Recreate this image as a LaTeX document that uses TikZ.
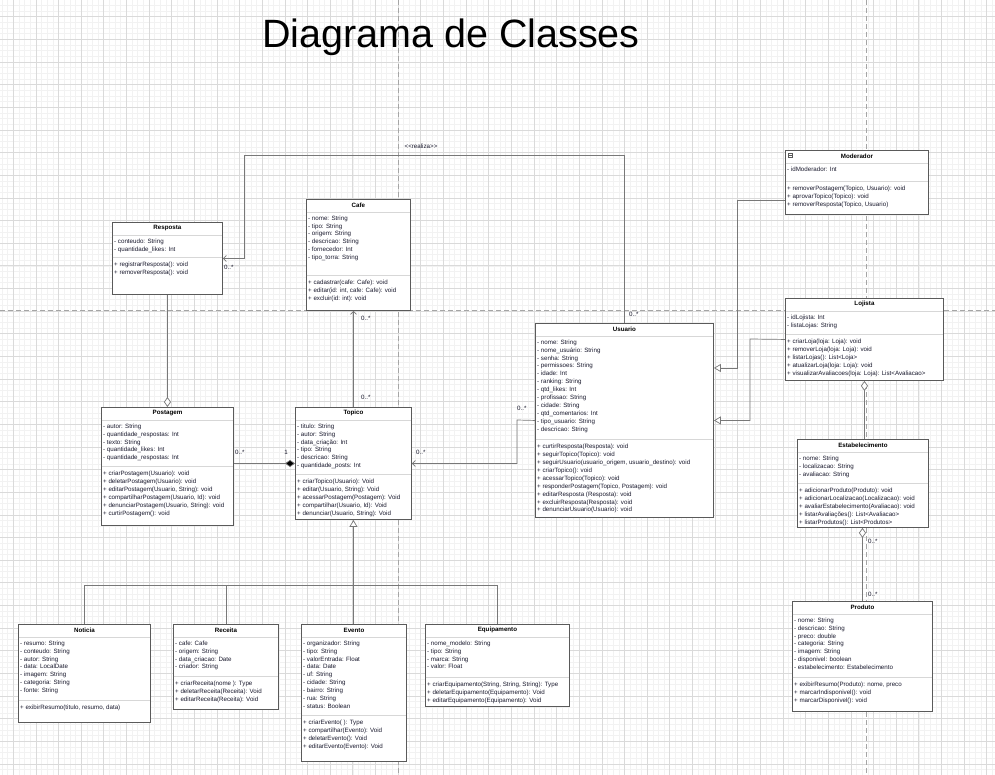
\documentclass[tikz,border=0pt]{standalone}
\usepackage{fontspec}
\setmainfont{Liberation Sans}
\usetikzlibrary{positioning,calc,arrows.meta}

\definecolor{boxgray}{RGB}{90,90,90}
\definecolor{sepgray}{RGB}{215,215,215}
\definecolor{linkgray}{RGB}{120,120,120}
\definecolor{textdark}{RGB}{25,25,45}
\definecolor{gridminor}{RGB}{242,242,242}
\definecolor{gridmajor}{RGB}{218,218,218}
\definecolor{pagegray}{RGB}{165,165,165}

\tikzset{
  umlbox/.style={draw=boxgray, line width=0.9pt, fill=white, inner sep=0pt},
  umlsep/.style={draw=sepgray, line width=0.7pt},
  umltitle/.style={font=\fontsize{6.2}{7.9}\selectfont\bfseries, text=black, inner sep=0pt},
  umltext/.style={font=\fontsize{6.2}{7.9}\selectfont, text=textdark, align=left, inner sep=0pt, anchor=north west},
  mult/.style={font=\fontsize{6.2}{7}\selectfont, text=textdark, inner sep=0pt},
  link/.style={draw=linkgray, line width=0.7pt},
  assoc/.style={link, -{Straight Barb[length=3pt,width=6pt]}},
  inherit/.style={link, -{Triangle[open,length=7pt,width=8pt,fill=white]}},
  aggreg/.style={link, -{Diamond[open,length=10pt,width=7pt,fill=white]}},
  compos/.style={link, -{Diamond[length=10pt,width=7pt,fill=black]}},
  pagebreak/.style={draw=pagegray, line width=1pt, dash pattern=on 5pt off 3pt},
}

% name, left, top, width, height, title, attributes, separator, methods
\newcommand{\umlclass}[9]{%
  \node[umlbox, anchor=north west, minimum width=#4pt, minimum height=#5pt] (#1) at (#2,#3) {};
  \node[umltitle] (#1-title) at ($(#1.north)+(0,6)$) {#6};
  \draw[umlsep] ($(#1.north west)+(0.5,13)$) -- ($(#1.north east)+(-0.5,13)$);
  \node[umltext] (#1-attr) at ($(#1.north west)+(2,16)$) {\rule{0pt}{5pt}#7};
  \draw[umlsep] ($(#1.north west)+(0.5,#8)$) -- ($(#1.north east)+(-0.5,#8)$);
  \node[umltext] (#1-meth) at ($(#1.north west)+(2,#8+4.5)$) {\rule{0pt}{5pt}#9};
}

\begin{document}
\begin{tikzpicture}[x=1pt,y=-1pt]
\useasboundingbox (0,0) rectangle (995,775);
\fill[white] (0,0) rectangle (995,775);

%grid of the page
\foreach \i in {-71,...,106}
  \draw[gridminor, line width=0.4pt] ({398+\i*5.66},0) -- ({398+\i*5.66},775);
\foreach \i in {-55,...,82}
  \draw[gridminor, line width=0.4pt] (0,{311+\i*5.66}) -- (995,{311+\i*5.66});
\foreach \i in {-18,...,27}
  \draw[gridmajor, line width=0.5pt] ({398+\i*22.64},0) -- ({398+\i*22.64},775);
\foreach \i in {-14,...,21}
  \draw[gridmajor, line width=0.5pt] (0,{311+\i*22.64}) -- (995,{311+\i*22.64});
\draw[pagebreak] (398,0) -- (398,775);
\draw[pagebreak] (866,0) -- (866,775);
\draw[pagebreak] (0,311) -- (995,311);

\node[font=\fontsize{39.5}{44}\selectfont, anchor=base, inner sep=0pt] (titulo) at (451,48) {Diagrama de Classes};

%classes
\umlclass{resposta}{112}{222}{110}{72}{Resposta}
  {- conteudo: String\\- quantidade\_likes: Int}{35}
  {+ registrarResposta(): void\\+ removerResposta(): void}
\umlclass{cafe}{306}{199}{104}{111}{Cafe}
  {- nome: String\\- tipo: String\\- origem: String\\- descricao: String\\- fornecedor: Int\\- tipo\_torra: String}{76}
  {+ cadastrar(cafe: Cafe): void\\+ editar(id: int, cafe: Cafe): void\\+ excluir(id: int): void}
\umlclass{moderador}{785}{150}{143}{64}{Moderador}
  {- idModerador: Int}{31}
  {+ removerPostagem(Topico, Usuario): void\\+ aprovarTopico(Topico): void\\+ removerResposta(Topico, Usuario)}
\draw[boxgray, line width=0.4pt] (788.5,153.5) rectangle (792.5,157.5);
\draw[boxgray, line width=0.4pt] (789.3,155.5) -- (791.7,155.5);
\umlclass{lojista}{785}{298}{158}{82}{Lojista}
  {- idLojista: Int\\- listaLojas: String}{36}
  {+ criarLoja(loja: Loja): void\\+ removerLoja(loja: Loja): void\\+ listarLojas(): List<Loja>\\+ atualizarLoja(loja: Loja): void\\+ visualizarAvaliacoes(loja: Loja): List<Avaliacao>}
\umlclass{usuario}{535}{323}{178}{194}{Usuario}
  {- nome: String\\- nome\_usuário: String\\- senha: String\\- permissoes: String\\- idade: Int\\- ranking: String\\- qtd\_likes: Int\\- profissao: String\\- cidade: String\\- qtd\_comentarios: Int\\- tipo\_usuario: String\\- descricao: String}{116}
  {+ curtirResposta(Resposta): void\\+ seguirTopico(Topico): void\\+ seguirUsuario(usuario\_origem, usuario\_destino): void\\+ criarTopico(): void\\+ acessarTopico(Topico): void\\+ responderPostagem(Topico, Postagem): void\\+ editarResposta (Resposta): void\\+ excluirResposta(Resposta): void\\+ denunciarUsuario(Usuario): void}
\umlclass{postagem}{101}{407}{132}{118}{Postagem}
  {- autor: String\\- quantidade\_respostas: Int\\- texto: String\\- quantidade\_likes: Int\\- quantidade\_respostas: Int}{59}
  {+ criarPostagem(Usuario): void\\+ deletarPostagem(Usuario): void\\+ editarPostagem(Usuario, String): void\\+ compartilharPostagem(Usuario, Id): void\\+ denunciarPostagem(Usuario, String): void\\+ curtirPostagem(): void}
\umlclass{topico}{295}{407}{116}{112}{Topico}
  {- titulo: String\\- autor: String\\- data\_criação: Int\\- tipo: String\\- descricao: String\\- quantidade\_posts: Int}{67}
  {+ criarTopico(Usuario): Void\\+ editar(Usuario, String): Void\\+ acessarPostagem(Postagem): Void\\+ compartilhar(Usuario, Id): Void\\+ denunciar(Usuario, String): Void}
\umlclass{estab}{797}{439}{131}{88}{Estabelecimento}
  {- nome: String\\- localizacao: String\\- avaliacao: String}{44}
  {+ adicionarProduto(Produto): void\\+ adicionarLocalizacao(Localizacao): void\\+ avaliarEstabelecimento(Avaliacao): void\\+ listarAvaliações():  List<Avaliacao>\\+ listarProdutos(): List<Produtos>}
\umlclass{produto}{792}{601}{140}{110}{Produto}
  {- nome: String\\- descricao: String\\- preco: double\\- categoria: String\\- imagem: String\\- disponivel: boolean\\- estabelecimento: Estabelecimento}{76}
  {+ exibirResumo(Produto): nome, preco\\+ marcarIndisponivel(): void\\+ marcarDisponivel(): void}
\umlclass{noticia}{18}{624}{132}{98}{Noticia}
  {- resumo: String\\- conteudo: String\\- autor: String\\- data: LocalDate\\- imagem: String\\- categoria: String\\- fonte: String}{76}
  {+ exibirResumo(titulo, resumo, data)}
\umlclass{receita}{173}{624}{105}{85}{Receita}
  {- cafe: Cafe\\- origem: String\\- data\_criacao: Date\\- criador: String}{52}
  {+ criarReceita(nome ): Type\\+ deletarReceita(Receita): Void\\+ editarReceita(Receita): Void}
\umlclass{evento}{301}{624}{105}{137}{Evento}
  {- organizador: String\\- tipo: String\\- valorEntrada: Float\\- data: Date\\- uf: String\\- cidade: String\\- bairro: String\\- rua: String\\- status: Boolean}{91}
  {+ criarEvento( ): Type\\+ compartilhar(Evento): Void\\+ deletarEvento(): Void\\+ editarEvento(Evento): Void}
\umlclass{equip}{425}{624}{144}{82}{Equipamento}
  {- nome\_modelo: String\\- tipo: String\\- marca: String\\- valor: Float}{53}
  {+ criarEquipamento(String, String, String): Type\\+ deletarEquipamento(Equipamento): Void\\+ editarEquipamento(Equipamento): Void}

%connectors
\coordinate (realiza-corner) at (244,155);
\draw[assoc] (usuario.north) |- (realiza-corner) |- (resposta.east);
\node[mult] (realiza-label) at (421,146) {<\kern0pt<realiza>\kern0pt>};
\node[mult, anchor=west] (mult-resp) at (224,267) {0..*};
\node[mult, anchor=west] (mult-usu) at (629,314) {0..*};

\draw[assoc] (topico.north) -- (topico.north |- cafe.south);
\node[mult, anchor=west] (mult-cafe) at (361,318) {0..*};
\node[mult, anchor=west] (mult-top) at (361,397) {0..*};

\draw[aggreg] (resposta.south) -- (postagem.north);

\draw[compos] (topico.west -| postagem.east) -- (topico.west);
\node[mult, anchor=west] (mult-post) at (235,452) {0..*};
\node[mult] (mult-one) at (286,452) {1};

\coordinate (usu-top-corner) at (517,420);
\draw[assoc] (usuario.west) -- (usu-top-corner) |- (topico.east);
\node[mult, anchor=west] (mult-usu2) at (517,408) {0..*};
\node[mult, anchor=west] (mult-top2) at (416,452) {0..*};

\coordinate (mod-corner) at (737,200);
\draw[inherit] (moderador.west |- mod-corner) -- (mod-corner) |- (usuario.east |- 0,368);
\coordinate (loj-corner) at (750,339);
\draw[inherit] (lojista.west) -- (loj-corner) |- (usuario.east);

\draw[aggreg] (estab.north -| lojista.south) -- (lojista.south);
\draw[aggreg] (produto.north) -- (produto.north |- estab.south);
\node[mult, anchor=west] (mult-est) at (868,541) {0..*};
\node[mult, anchor=west] (mult-prod) at (868,594) {0..*};

\coordinate (heranca) at (353,585);
\draw[link] (noticia.north) |- (heranca);
\draw[link] (receita.north) |- (heranca);
\draw[link] (equip.north) |- (heranca);
\draw[inherit] (evento.north -| topico.south) -- (topico.south);

\end{tikzpicture}
\end{document}
